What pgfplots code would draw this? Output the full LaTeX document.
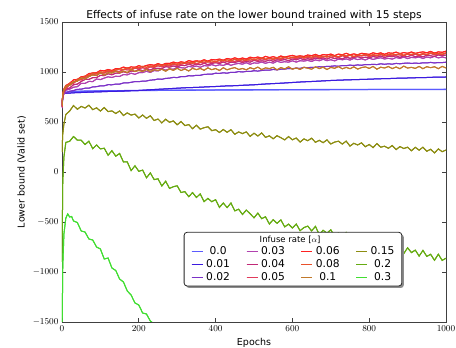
\documentclass[border=0pt]{standalone}
\usepackage{fontspec}
\setmainfont{DejaVu Sans}
\usepackage{pgfplots}
\pgfplotsset{compat=1.18}
\pgfplotsset{rs/.style 2 args={color={rgb,255:#1}, draw={rgb,255:#1}, line width=1pt, postaction={draw={rgb,255:#2}, line width=1pt}}}
\begin{document}
\begin{tikzpicture}
\begin{axis}[name=ax, width=384pt, height=300pt, scale only axis,
  xmin=0, xmax=1000, ymin=-1500, ymax=1500,
  xtick={0,200,...,1000}, ytick={-1500,-1000,...,1500},
  /pgf/number format/1000 sep={},
  scaled ticks=false,
  tick label style={font=\fontsize{9}{9}\selectfont},
  title={Effects of infuse rate on the lower bound trained with 15 steps},
  every axis title shift=0pt,
  title style={font=\fontsize{10.7}{12}\selectfont, at={(0.5,1)}, anchor=base, yshift=3.7pt, inner sep=0pt},
  xlabel={Epochs}, ylabel={Lower bound (Valid set)},
  label style={font=\fontsize{9.5}{11}\selectfont},
  axis line style={black!75, line width=0.9pt},
  tick style={black!75, line width=0.6pt},
  legend columns=4,
  legend style={at={(0.336,0.255)}, anchor=north west, draw=none, fill=none,
    font=\fontsize{10.7}{11}\selectfont, inner sep=0pt, row sep=1.7pt,
    nodes={inner sep=1pt},
    /tikz/every odd column/.append style={column sep=2pt},
    /tikz/every even column/.append style={column sep=15pt}},
  legend image code/.code={\draw[#1] (0pt,0pt) -- (11pt,0pt);},
]
\addplot[rs={red,90;green,90;blue,255}{red,91;green,91;blue,254}, line width=1.3pt, forget plot] coordinates {(0,650)(2,760)(5,790)(10,797)(20,803)(50,808)(100,811)(200,815)(300,818)(400,820)(600,823)(800,825)(1000,826)};
\addplot[rs={red,58;green,26;blue,224}{red,59;green,27;blue,223}, forget plot] coordinates {(0,650)(2,760)(5,785)(10,787)(20,789)(30,792)(50,795)(75,799)(100,802)(125,806)(150,808)(175,812)(200,815)(225,821)(250,827)(275,832)(300,838)(325,843)(350,846)(375,851)(400,855)(425,860)(450,863)(475,868)(500,872)(525,879)(550,884)(575,889)(600,895)(625,901)(650,905)(675,910)(700,915)(725,919)(750,922)(775,925)(800,928)(825,932)(850,934)(875,938)(900,940)(925,943)(950,945)(975,949)(1000,950)};
\addplot[rs={red,122;green,48;blue,200}{red,123;green,49;blue,199}, forget plot] coordinates {(0,650)(2,760)(5,785)(10,789)(20,808)(30,814)(40,827)(50,828)(60,838)(70,838)(80,851)(90,853)(100,862)(110,862)(120,873)(130,872)(140,879)(150,879)(160,890)(170,890)(180,897)(190,904)(200,903)(210,909)(220,910)(230,919)(240,921)(250,930)(260,927)(270,936)(280,939)(290,946)(300,944)(310,954)(320,953)(330,963)(340,961)(350,967)(360,967)(370,976)(380,978)(390,978)(400,988)(410,986)(420,992)(430,988)(440,997)(450,996)(460,1004)(470,1000)(480,1006)(490,1005)(500,1013)(510,1009)(520,1015)(530,1019)(540,1018)(550,1026)(560,1021)(570,1028)(580,1029)(590,1035)(600,1033)(610,1039)(620,1036)(630,1046)(640,1043)(650,1047)(660,1046)(670,1053)(680,1050)(690,1057)(700,1057)(710,1061)(720,1057)(730,1065)(740,1063)(750,1069)(760,1065)(770,1071)(780,1067)(790,1075)(800,1073)(810,1077)(820,1074)(830,1082)(840,1077)(850,1082)(860,1078)(870,1086)(880,1082)(890,1087)(900,1090)(910,1086)(920,1089)(930,1086)(940,1092)(950,1090)(960,1096)(970,1090)(980,1095)(990,1094)(1000,1098)};
\addplot[rs={red,176;green,64;blue,176}{red,177;green,65;blue,175}, forget plot] coordinates {(0,640)(2,750)(5,780)(10,818)(20,828)(30,848)(40,853)(50,886)(60,887)(70,906)(80,904)(90,930)(100,924)(110,939)(120,952)(130,945)(140,958)(150,955)(160,975)(170,971)(180,988)(190,977)(200,993)(210,994)(220,1007)(230,996)(240,1014)(250,1010)(260,1029)(270,1019)(280,1032)(290,1027)(300,1046)(310,1043)(320,1039)(330,1057)(340,1049)(350,1060)(360,1047)(370,1064)(380,1060)(390,1074)(400,1061)(410,1072)(420,1066)(430,1080)(440,1067)(450,1079)(460,1086)(470,1078)(480,1093)(490,1077)(500,1091)(510,1088)(520,1099)(530,1087)(540,1098)(550,1089)(560,1108)(570,1096)(580,1103)(590,1098)(600,1112)(610,1099)(620,1113)(630,1109)(640,1116)(650,1105)(660,1121)(670,1112)(680,1127)(690,1113)(700,1123)(710,1111)(720,1129)(730,1122)(740,1131)(750,1119)(760,1136)(770,1124)(780,1132)(790,1120)(800,1138)(810,1126)(820,1135)(830,1142)(840,1130)(850,1137)(860,1129)(870,1145)(880,1136)(890,1149)(900,1134)(910,1146)(920,1142)(930,1150)(940,1135)(950,1150)(960,1142)(970,1157)(980,1141)(990,1150)(1000,1141)};
\addplot[rs={red,192;green,40;blue,120}{red,193;green,41;blue,119}, forget plot] coordinates {(0,645)(2,765)(5,800)(10,828)(20,840)(30,873)(40,879)(50,905)(60,926)(70,926)(80,943)(90,944)(100,966)(110,964)(120,982)(130,972)(140,989)(150,989)(160,1003)(170,991)(180,1010)(190,1006)(200,1025)(210,1013)(220,1026)(230,1020)(240,1038)(250,1036)(260,1034)(270,1054)(280,1048)(290,1060)(300,1050)(310,1067)(320,1064)(330,1078)(340,1066)(350,1078)(360,1072)(370,1087)(380,1074)(390,1086)(400,1093)(410,1085)(420,1100)(430,1084)(440,1098)(450,1095)(460,1107)(470,1095)(480,1107)(490,1098)(500,1117)(510,1106)(520,1112)(530,1107)(540,1120)(550,1107)(560,1122)(570,1117)(580,1125)(590,1113)(600,1130)(610,1122)(620,1136)(630,1123)(640,1133)(650,1122)(660,1140)(670,1131)(680,1141)(690,1129)(700,1146)(710,1134)(720,1142)(730,1131)(740,1149)(750,1137)(760,1146)(770,1153)(780,1141)(790,1148)(800,1140)(810,1155)(820,1147)(830,1160)(840,1145)(850,1157)(860,1153)(870,1162)(880,1146)(890,1161)(900,1153)(910,1168)(920,1153)(930,1161)(940,1152)(950,1167)(960,1162)(970,1156)(980,1171)(990,1161)(1000,1170)};
\addplot[rs={red,224;green,58;blue,90}{red,225;green,59;blue,91}, forget plot] coordinates {(0,650)(2,775)(5,815)(10,832)(20,874)(30,887)(40,919)(50,921)(60,947)(70,955)(80,975)(90,969)(100,991)(110,988)(120,1008)(130,997)(140,1010)(150,1005)(160,1024)(170,1022)(180,1019)(190,1038)(200,1031)(210,1043)(220,1032)(230,1050)(240,1047)(250,1062)(260,1051)(270,1064)(280,1060)(290,1076)(300,1066)(310,1078)(320,1086)(330,1079)(340,1095)(350,1080)(360,1094)(370,1092)(380,1104)(390,1093)(400,1105)(410,1096)(420,1115)(430,1104)(440,1111)(450,1106)(460,1120)(470,1107)(480,1122)(490,1118)(500,1126)(510,1116)(520,1132)(530,1124)(540,1138)(550,1125)(560,1136)(570,1124)(580,1143)(590,1134)(600,1144)(610,1133)(620,1150)(630,1139)(640,1147)(650,1136)(660,1154)(670,1142)(680,1152)(690,1159)(700,1147)(710,1154)(720,1146)(730,1162)(740,1154)(750,1167)(760,1152)(770,1164)(780,1160)(790,1169)(800,1154)(810,1169)(820,1161)(830,1176)(840,1161)(850,1170)(860,1161)(870,1176)(880,1170)(890,1164)(900,1180)(910,1170)(920,1179)(930,1164)(940,1179)(950,1174)(960,1186)(970,1172)(980,1181)(990,1174)(1000,1187)};
\addplot[rs={red,255;green,32;blue,32}{red,254;green,33;blue,33}, forget plot] coordinates {(0,660)(2,785)(5,830)(10,865)(20,886)(30,922)(40,926)(50,952)(60,957)(70,984)(80,990)(90,993)(100,1016)(110,1011)(120,1025)(130,1015)(140,1034)(150,1033)(160,1049)(170,1038)(180,1051)(190,1047)(200,1063)(210,1052)(220,1065)(230,1074)(240,1067)(250,1084)(260,1070)(270,1086)(280,1085)(290,1099)(300,1089)(310,1102)(320,1094)(330,1114)(340,1104)(350,1112)(360,1107)(370,1122)(380,1109)(390,1125)(400,1121)(410,1129)(420,1118)(430,1135)(440,1127)(450,1142)(460,1129)(470,1140)(480,1129)(490,1148)(500,1140)(510,1150)(520,1138)(530,1156)(540,1144)(550,1153)(560,1142)(570,1160)(580,1149)(590,1158)(600,1166)(610,1155)(620,1162)(630,1155)(640,1170)(650,1163)(660,1176)(670,1161)(680,1174)(690,1170)(700,1179)(710,1164)(720,1179)(730,1172)(740,1187)(750,1172)(760,1181)(770,1172)(780,1187)(790,1182)(800,1176)(810,1192)(820,1182)(830,1191)(840,1177)(850,1192)(860,1187)(870,1199)(880,1184)(890,1194)(900,1187)(910,1200)(920,1186)(930,1195)(940,1201)(950,1192)(960,1206)(970,1189)(980,1201)(990,1197)(1000,1208)};
\addplot[rs={red,232;green,80;blue,42}{red,233;green,81;blue,43}, forget plot] coordinates {(0,655)(2,780)(5,825)(10,843)(20,888)(30,899)(40,927)(50,930)(60,959)(70,966)(80,989)(90,984)(100,1001)(110,998)(120,1016)(130,1006)(140,1020)(150,1030)(160,1025)(170,1042)(180,1028)(190,1044)(200,1043)(210,1057)(220,1047)(230,1061)(240,1053)(250,1074)(260,1065)(270,1074)(280,1071)(290,1086)(300,1075)(310,1091)(320,1088)(330,1097)(340,1087)(350,1105)(360,1097)(370,1113)(380,1100)(390,1112)(400,1101)(410,1120)(420,1112)(430,1122)(440,1111)(450,1129)(460,1118)(470,1126)(480,1115)(490,1134)(500,1123)(510,1133)(520,1140)(530,1129)(540,1136)(550,1129)(560,1145)(570,1137)(580,1151)(590,1136)(600,1149)(610,1146)(620,1155)(630,1141)(640,1156)(650,1148)(660,1163)(670,1148)(680,1158)(690,1149)(700,1164)(710,1159)(720,1153)(730,1170)(740,1160)(750,1169)(760,1155)(770,1170)(780,1165)(790,1177)(800,1163)(810,1173)(820,1166)(830,1178)(840,1164)(850,1174)(860,1180)(870,1171)(880,1184)(890,1167)(900,1180)(910,1176)(920,1187)(930,1173)(940,1184)(950,1174)(960,1192)(970,1180)(980,1185)(990,1179)(1000,1192)};
\addplot[rs={red,192;green,120;blue,42}{red,193;green,121;blue,43}, forget plot] coordinates {(0,665)(2,775)(5,815)(10,859)(20,866)(30,903)(40,907)(50,941)(60,930)(70,954)(80,971)(90,964)(100,991)(110,969)(120,993)(130,989)(140,1008)(150,991)(160,1009)(170,995)(180,1023)(190,1005)(200,1015)(210,1005)(220,1025)(230,1003)(240,1024)(250,1016)(260,1027)(270,1008)(280,1032)(290,1016)(300,1037)(310,1015)(320,1030)(330,1010)(340,1037)(350,1023)(360,1036)(370,1017)(380,1042)(390,1023)(400,1035)(410,1015)(420,1042)(430,1022)(440,1035)(450,1044)(460,1025)(470,1035)(480,1022)(490,1043)(500,1030)(510,1049)(520,1024)(530,1041)(540,1034)(550,1047)(560,1022)(570,1044)(580,1031)(590,1052)(600,1028)(610,1040)(620,1026)(630,1047)(640,1038)(650,1028)(660,1051)(670,1034)(680,1048)(690,1025)(700,1046)(710,1037)(720,1054)(730,1032)(740,1046)(750,1033)(760,1052)(770,1029)(780,1044)(790,1051)(800,1036)(810,1056)(820,1028)(830,1048)(840,1040)(850,1055)(860,1034)(870,1050)(880,1033)(890,1059)(900,1039)(910,1047)(920,1036)(930,1056)(940,1033)(950,1053)(960,1043)(970,1053)(980,1033)(990,1056)(1000,1040)};
\addplot[rs={red,140;green,140;blue,16}{red,141;green,141;blue,17}, forget plot] coordinates {(0,200)(2,380)(5,480)(10,575)(20,610)(30,665)(40,627)(50,656)(60,640)(70,668)(80,623)(90,642)(100,609)(110,645)(120,604)(130,611)(140,585)(150,610)(160,565)(170,591)(180,569)(190,579)(200,540)(210,570)(220,537)(230,562)(240,515)(250,530)(260,491)(270,528)(280,497)(290,511)(300,472)(310,505)(320,464)(330,474)(340,433)(350,468)(360,429)(370,443)(380,452)(390,413)(400,423)(410,395)(420,425)(430,397)(440,423)(450,377)(460,401)(470,384)(480,401)(490,356)(500,388)(510,360)(520,391)(530,346)(540,362)(550,332)(560,363)(570,343)(580,321)(590,354)(600,322)(610,340)(620,299)(630,331)(640,313)(650,338)(660,297)(670,317)(680,293)(690,321)(700,280)(710,299)(720,308)(730,279)(740,309)(750,259)(760,287)(770,270)(780,292)(790,253)(800,275)(810,244)(820,284)(830,248)(840,258)(850,237)(860,265)(870,224)(880,254)(890,235)(900,248)(910,212)(920,247)(930,218)(940,248)(950,207)(960,227)(970,191)(980,231)(990,203)(1000,220)};
\addplot[rs={red,100;green,170;blue,16}{red,101;green,171;blue,17}, forget plot] coordinates {(0,-900)(2,-100)(5,150)(10,296)(20,307)(30,355)(40,318)(50,318)(60,275)(70,308)(80,233)(90,270)(100,231)(110,238)(120,168)(130,213)(140,158)(150,185)(160,100)(170,101)(180,14)(190,62)(200,7)(210,19)(220,-58)(230,-9)(240,-76)(250,-68)(260,-140)(270,-92)(280,-164)(290,-147)(300,-138)(310,-205)(320,-196)(330,-247)(340,-206)(350,-255)(360,-219)(370,-296)(380,-264)(390,-297)(400,-277)(410,-354)(420,-310)(430,-356)(440,-310)(450,-389)(460,-372)(470,-425)(480,-381)(490,-418)(500,-458)(510,-411)(520,-467)(530,-448)(540,-520)(550,-477)(560,-513)(570,-479)(580,-549)(590,-521)(600,-560)(610,-520)(620,-587)(630,-556)(640,-541)(650,-589)(660,-544)(670,-624)(680,-583)(690,-611)(700,-578)(710,-642)(720,-609)(730,-663)(740,-605)(750,-665)(760,-652)(770,-690)(780,-652)(790,-722)(800,-680)(810,-712)(820,-695)(830,-755)(840,-702)(850,-750)(860,-705)(870,-778)(880,-754)(890,-816)(900,-758)(910,-806)(920,-781)(930,-841)(940,-784)(950,-844)(960,-823)(970,-883)(980,-822)(990,-884)(1000,-862)};
\addplot[rs={red,64;green,221;blue,48}{red,65;green,222;blue,49}, forget plot] coordinates {(0,-1700)(2,-950)(5,-620)(10,-460)(15,-420)(20,-450)(25,-445)(30,-490)(40,-505)(50,-590)(60,-600)(70,-670)(80,-680)(90,-750)(100,-770)(110,-870)(120,-860)(130,-960)(140,-985)(150,-1070)(160,-1100)(170,-1190)(180,-1230)(190,-1310)(200,-1330)(210,-1410)(220,-1420)(230,-1490)(240,-1520)(250,-1600)};
% legend box
\fill[black!45, rounded corners=3pt] ([xshift=2pt,yshift=-2pt]rel axis cs:0.318,0.12) rectangle ([xshift=2pt,yshift=-2pt]rel axis cs:0.885,0.299);
\draw[black!85, fill=white, line width=0.8pt, rounded corners=3pt] (rel axis cs:0.318,0.12) rectangle (rel axis cs:0.885,0.299);
\node[font=\fontsize{8.5}{9}\selectfont, inner sep=0pt] at (rel axis cs:0.594,0.273) {Infuse rate [$\alpha$]};
% legend entries in row order
\addlegendimage{rs={red,90;green,90;blue,255}{red,91;green,91;blue,254}}\addlegendentry{0.0}
\addlegendimage{rs={red,176;green,64;blue,176}{red,177;green,65;blue,175}}\addlegendentry{0.03}
\addlegendimage{rs={red,255;green,32;blue,32}{red,254;green,33;blue,33}}\addlegendentry{0.06}
\addlegendimage{rs={red,140;green,140;blue,16}{red,141;green,141;blue,17}}\addlegendentry{0.15}
\addlegendimage{rs={red,58;green,26;blue,224}{red,59;green,27;blue,223}}\addlegendentry{0.01}
\addlegendimage{rs={red,192;green,40;blue,120}{red,193;green,41;blue,119}}\addlegendentry{0.04}
\addlegendimage{rs={red,232;green,80;blue,42}{red,233;green,81;blue,43}}\addlegendentry{0.08}
\addlegendimage{rs={red,100;green,170;blue,16}{red,101;green,171;blue,17}}\addlegendentry{0.2}
\addlegendimage{rs={red,122;green,48;blue,200}{red,123;green,49;blue,199}}\addlegendentry{0.02}
\addlegendimage{rs={red,224;green,58;blue,90}{red,225;green,59;blue,91}}\addlegendentry{0.05}
\addlegendimage{rs={red,192;green,120;blue,42}{red,193;green,121;blue,43}}\addlegendentry{0.1}
\addlegendimage{rs={red,64;green,221;blue,48}{red,65;green,222;blue,49}}\addlegendentry{0.3}
\end{axis}
\pgfresetboundingbox
\path[use as bounding box] ([xshift=-62pt,yshift=-26pt]ax.south west) rectangle ([xshift=10pt,yshift=22pt]ax.north east);
\end{tikzpicture}
\end{document}
